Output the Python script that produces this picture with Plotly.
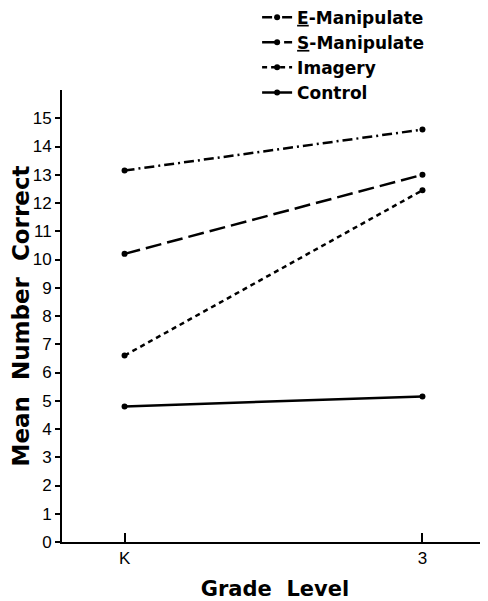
import plotly.graph_objects as go

grades = ["K", "3"]
series_names = ["<u>E</u>-Manipulate", "<u>S</u>-Manipulate", "Imagery", "Control"]
e_manip = [13.15, 14.6]
s_manip = [10.2, 13.0]
imagery = [6.6, 12.45]
control = [4.8, 5.15]
y_ticks = list(range(0, 16))

values = [e_manip, s_manip, imagery, control]
dashes = ["10px,4px,2px,4px", "16px,6px", "5px,4px", "solid"]

fig = go.Figure()
for name, vals, dash in zip(series_names, values, dashes):
    fig.add_trace(go.Scatter(
        x=grades, y=vals, name=name, mode="lines+markers",
        line=dict(color="black", width=2.5, dash=dash),
        marker=dict(color="black", size=6),
    ))

tickfont = dict(family="Liberation Sans", size=17, color="black")

fig.update_layout(
    width=480, height=593,
    margin=dict(l=54, r=0, t=82, b=59, autoexpand=False),
    plot_bgcolor="white", paper_bgcolor="white",
    showlegend=True,
    legend=dict(
        x=0.458, y=1.2, xanchor="left", yanchor="top",
        font=dict(family="DejaVu Sans", size=17, color="black", weight="bold"),
        bgcolor="rgba(0,0,0,0)", tracegroupgap=0,
        itemwidth=30,
    ),
    font=dict(family="DejaVu Sans", color="black"),
)
fig.update_xaxes(
    type="category", range=[-0.21, 1.22],
    showline=True, linecolor="black", linewidth=2,
    ticks="inside", ticklen=9, tickwidth=2, tickcolor="black",
    showgrid=False, zeroline=False,
    tickfont=tickfont,
    title=dict(text="Grade  Level", font=dict(family="DejaVu Sans", size=21, weight="bold"), standoff=16),
)
fig.update_yaxes(
    range=[0, 16], tickvals=y_ticks, ticktext=[str(t) for t in y_ticks],
    showline=True, linecolor="black", linewidth=2,
    ticks="outside", ticklen=5, tickwidth=2, tickcolor="black",
    showgrid=False, zeroline=False,
    tickfont=tickfont,
    title=dict(text="Mean  Number  Correct", font=dict(family="DejaVu Sans", size=23, weight="bold"), standoff=3),
)
fig.write_html("out.html")
